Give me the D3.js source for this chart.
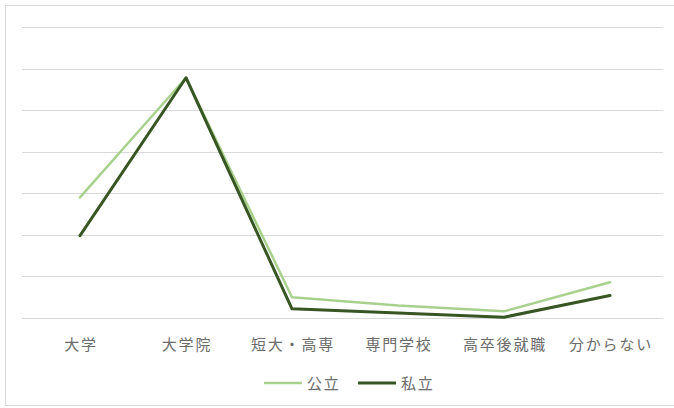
<!DOCTYPE html>
<html>
<head>
<meta charset="utf-8">
<script src="https://cdn.jsdelivr.net/npm/d3@7"></script>
<style>
  body { margin: 0; background: #fff; }
  svg { display: block; font-family: "Noto Sans CJK JP", sans-serif; }
</style>
</head>
<body>
<svg id="chart"></svg>
<script>
const width = 674;
const height = 408;

// categories and values
const categories = ["大学", "大学院", "短大・高専", "専門学校", "高卒後就職", "分からない"];
const publicVals = [14.5, 28.9, 2.5, 1.5, 0.8, 4.3];
const privateVals = [9.9, 28.9, 1.1, 0.6, 0.1, 2.7];
const seriesNames = ["公立", "私立"];
const seriesColors = ["#a9d18e", "#375623"];
const yTicks = [0, 5, 10, 15, 20, 25, 30, 35];

const svg = d3.select("#chart").attr("width", width).attr("height", height);

// chart area border (only top/left visible in the crop)
svg.append("rect")
  .attr("x", 5.5).attr("y", 5.5)
  .attr("width", 700).attr("height", 400)
  .attr("fill", "none")
  .attr("stroke", "#d9d9d9");

const x = d3.scalePoint().domain(categories).range([80, 610]);
const y = d3.scaleLinear().domain([0, 35]).range([318, 27]);

// gridlines
svg.append("g")
  .selectAll("line")
  .data(yTicks)
  .join("line")
  .attr("x1", 22).attr("x2", 663)
  .attr("y1", d => Math.round(y(d)) + 0.5)
  .attr("y2", d => Math.round(y(d)) + 0.5)
  .attr("stroke", "#d9d9d9")
  .attr("stroke-width", 1.2);

// x axis labels
svg.append("g")
  .selectAll("text")
  .data(categories)
  .join("text")
  .attr("x", d => x(d))
  .attr("dx", 1)
  .attr("y", 350)
  .attr("text-anchor", "middle")
  .attr("font-size", 15)
  .attr("letter-spacing", 1.8)
  .attr("fill", "#6b6b6b")
  .text(d => d);

const line = d3.line()
  .x((d, i) => x(categories[i]))
  .y(d => y(d));

[publicVals, privateVals].forEach((vals, i) => {
  svg.append("path")
    .datum(vals)
    .attr("d", line)
    .attr("fill", "none")
    .attr("stroke", seriesColors[i])
    .attr("stroke-width", i === 0 ? 2.5 : 3)
    .attr("stroke-linejoin", "round")
    .attr("stroke-linecap", "round");
});

// legend
const legend = svg.append("g");
const legendX = [264, 358];
seriesNames.forEach((name, i) => {
  const g = legend.append("g").attr("transform", `translate(${legendX[i]},383)`);
  g.append("line")
    .attr("x1", 0).attr("x2", 38)
    .attr("stroke", seriesColors[i])
    .attr("stroke-width", i === 0 ? 2.5 : 3);
  g.append("text")
    .attr("x", 43).attr("y", 6)
    .attr("font-size", 15)
    .attr("letter-spacing", 1.8)
    .attr("fill", "#6b6b6b")
    .text(name);
});
</script>
</body>
</html>
